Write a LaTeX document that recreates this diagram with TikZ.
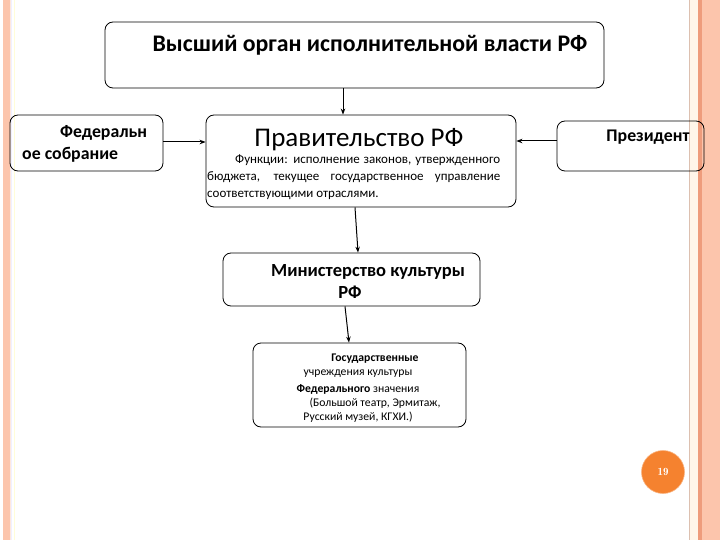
\documentclass[tikz,border=0pt]{standalone}
\usepackage{fontspec}
\setmainfont{Carlito}
\usetikzlibrary{arrows.meta}
\definecolor{salmon}{HTML}{FCC5AC}
\definecolor{salmonline}{HTML}{EE9C7C}
\definecolor{cream}{HTML}{FFF6EA}
\definecolor{tanline}{HTML}{DCC0B0}
\definecolor{numorange}{HTML}{F5822F}
\begin{document}
\begin{tikzpicture}[x=1pt,y=-1pt,
  box/.style={draw=black, line width=0.8pt, rounded corners=8pt, inner sep=0pt},
  conn/.style={line width=1pt, -{Stealth[length=6pt,width=4.5pt]}},
  txt/.style={inner sep=0pt, font=\fontsize{17.8}{22}\selectfont\bfseries},
  small/.style={inner sep=0pt, font=\fontsize{11.7}{13}\selectfont}
]
\useasboundingbox (0,0) rectangle (720,540);
% side stripes
\fill[salmon] (3,0) rectangle (9.5,540);
\fill[salmon!40] (9.5,0) rectangle (10.5,540);
\fill[blue!6] (11,0) rectangle (12,540);
\fill[yellow!15] (13.5,0) rectangle (14.5,540);
\fill[tanline] (688.5,0) rectangle (690,540);
\fill[cream] (690,0) rectangle (698,540);
\fill[salmonline] (698,0) rectangle (702,540);
\fill[salmon] (702,0) rectangle (720,540);

% boxes
\node[box, minimum width=499pt, minimum height=66pt] (top) at (354.5,55) {};
\node[txt, font=\fontsize{23.8}{26}\selectfont\bfseries] (toptxt) at (370,45) {Высший орган исполнительной власти РФ};

\node[box, minimum width=153pt, minimum height=56pt] (fed) at (86.5,143) {};
\node[txt, anchor=west, align=left] (fedtxt) at (22,144) {\hspace*{38pt}Федеральн\\ое собрание};

\node[box, minimum width=310pt, minimum height=92pt] (gov) at (361,161) {};
\node[inner sep=0pt, font=\fontsize{27}{30}\selectfont] (govtxt) at (359,140) {Правительство РФ};
\node[inner sep=0pt, anchor=north west, align=left,
      font=\fontsize{13}{17}\selectfont] (govfun) at (207,155)
  {\hspace*{28pt}\makebox[265pt][s]{Функции: исполнение законов, утвержденного}\\
   \makebox[293pt][s]{бюджета, текущее государственное управление}\\
   соответствующими отраслями.};

\node[box, minimum width=147pt, minimum height=50pt] (pres) at (630.5,146) {};
\node[txt] (prestxt) at (648,137) {Президент};

\node[box, minimum width=257pt, minimum height=53pt] (min) at (351.5,279.5) {};
\node[txt, font=\fontsize{18.5}{22}\selectfont\bfseries] (mintxt) at (368,272) {Министерство культуры};
\node[txt, font=\fontsize{18.5}{22}\selectfont\bfseries] (minrf) at (350,292) {РФ};

\node[box, minimum width=213pt, minimum height=84pt] (gos) at (359.5,385) {};
\node[small, font=\fontsize{11.7}{13}\selectfont\bfseries] (g1) at (375,359) {Государственные};
\node[small] (g2) at (358,374) {учреждения культуры};
\node[small] (g3) at (358,389) {\textbf{Федерального} значения};
\node[small] (g4) at (375,403) {(Большой театр, Эрмитаж,};
\node[small] (g5) at (358,417) {Русский музей, КГХИ.)};

% connectors
\draw[conn] ([xshift=-11.5pt]top.south) -- ([xshift=-18pt]gov.north);
\draw[conn] ([yshift=1pt]fed.east) -- ([yshift=1pt]fed.east -| gov.west);
\draw[conn] ([yshift=5pt]pres.west) -- ([yshift=5pt]pres.west -| gov.east);
\draw[conn] ([xshift=-6pt]gov.south) -- ([xshift=6.5pt]min.north);
\draw[conn] ([xshift=-6.5pt]min.south) -- ([xshift=-10.5pt]gos.north);

% page number
\node[circle, fill=numorange, draw=numorange!60, line width=0.6pt, minimum size=43pt, inner sep=0pt,
      text=white, font=\fontfamily{lmr}\selectfont\bfseries\fontsize{11}{13}\selectfont] (num) at (663,472) {19};
\end{tikzpicture}
\end{document}
